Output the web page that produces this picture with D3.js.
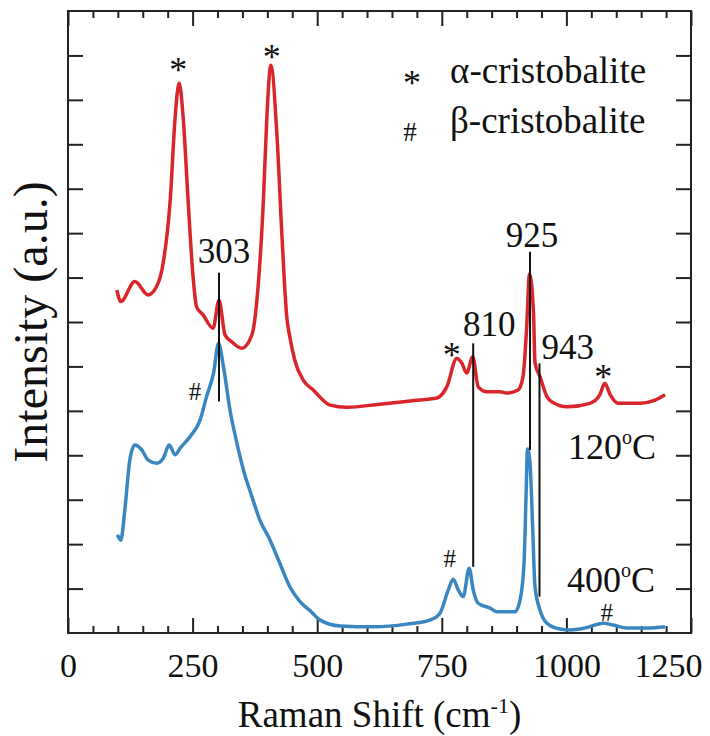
<!DOCTYPE html>
<html lang="en">
<head>
<meta charset="utf-8">
<title>Raman spectra</title>
<script src="https://d3js.org/d3.v7.min.js"></script>
<style>
  body { margin: 0; background: #fff; }
  svg text { font-family: "Liberation Serif", "Times New Roman", serif; fill: #111; }
  .ax path.domain { display: none; }
  .ax line { stroke: #222; stroke-width: 2; }
</style>
</head>
<body>
<script>

// spectrum at 120 C (red)
const shift120 = [98, 106, 134, 161, 181, 191, 205, 215, 223, 231,
                  241, 251, 258, 271, 291, 303, 315, 328, 349, 369,
                  379, 392, 399, 407, 419, 429, 439, 445, 455, 472,
                  492, 526, 559, 626, 692, 740, 760, 780, 790, 800,
                  812, 823, 840, 867, 880, 903, 913, 920, 926, 934,
                  937, 947, 961, 974, 1001, 1047, 1067, 1077, 1088, 1104,
                  1148, 1178, 1198];
const intensity120 = [7.72, 7.46, 7.91, 7.61, 7.88, 8.33, 9.73, 11.61, 12.38, 11.61,
                      9.73, 8.01, 7.34, 7.16, 6.86, 7.49, 6.71, 6.56, 6.41, 6.71,
                      7.49, 9.73, 11.61, 12.78, 11.25, 9.0, 7.11, 6.67, 6.14, 5.69,
                      5.47, 5.13, 5.08, 5.15, 5.23, 5.29, 5.54, 6.18, 6.08, 5.85,
                      6.22, 5.54, 5.43, 5.43, 5.40, 5.47, 5.77, 6.82, 8.08, 7.20,
                      6.08, 5.77, 5.32, 5.18, 5.09, 5.17, 5.36, 5.62, 5.36, 5.17,
                      5.17, 5.24, 5.36];

// spectrum at 400 C (blue)
const shift400 = [99, 106, 114, 124, 134, 148, 161, 178, 191, 203,
                  215, 225, 245, 265, 278, 292, 302, 312, 325, 339,
                  352, 369, 385, 402, 425, 445, 466, 486, 506, 546,
                  613, 680, 726, 746, 763, 773, 783, 793, 805, 813,
                  823, 847, 860, 897, 907, 915, 919, 922, 927, 932,
                  937, 947, 961, 987, 1007, 1036, 1074, 1094, 1121, 1161,
                  1198];
const intensity400 = [2.21, 2.09, 2.77, 3.89, 4.23, 4.12, 3.89, 3.82, 3.93, 4.23,
                      4.01, 4.16, 4.42, 4.79, 5.32, 5.85, 6.52, 5.99, 5.02, 4.27,
                      3.67, 3.07, 2.54, 2.17, 1.57, 1.04, 0.70, 0.50, 0.29, 0.16,
                      0.14, 0.20, 0.29, 0.44, 0.97, 1.21, 0.97, 0.82, 1.46, 0.97,
                      0.67, 0.56, 0.48, 0.48, 0.74, 1.57, 3.07, 4.14, 3.82, 2.47,
                      1.04, 0.52, 0.22, 0.09, 0.07, 0.11, 0.22, 0.18, 0.11, 0.11,
                      0.14];

// marked peaks (vertical guide lines)
const peakShift = [303, 813, 927, 946];
const peakLabels = ["303", "810", "925", "943"];
const peakTop = [8.11, 6.52, 8.58, 6.07];
const peakBottom = [5.21, 1.49, 4.12, 0.82];

// phase markers: * alpha, # beta
const alphaShift = [221, 409, 770, 1074];
const alphaLevel = [12.4, 12.7, 5.98, 5.5];
const betaShift = [255, 766, 1081];
const betaLevel = [5.24, 1.49, 0.27];

const xMajor = [0, 250, 500, 750, 1000, 1250];
const xMinor = d3.range(50, 1250, 50).filter(d => d % 250 !== 0);
const yTicks = d3.range(1, 14);

const W = 710, H = 736;
const mLeft = 68, mRight = 691, mTop = 11, mBottom = 633;

const x = d3.scaleLinear().domain([0, 1250]).range([mLeft, mRight]);
const y = d3.scaleLinear().domain([0, 14]).range([mBottom, mTop]);

const svg = d3.select("body").append("svg")
    .attr("width", W)
    .attr("height", H);

// axes: ticks inside on all four sides
function styleAxis(g) {
    g.attr("class", "ax").attr("font-family", null).attr("font-size", null);
}

const xLabels = svg.append("g")
    .attr("transform", `translate(0,${mBottom})`)
    .call(d3.axisBottom(x).tickValues(xMajor).tickFormat(d3.format("d"))
        .tickSizeInner(-15).tickSizeOuter(0).tickPadding(20))
    .call(styleAxis)
    .selectAll("text")
    .attr("font-size", 34);

// last label is pulled back inside the picture
xLabels.filter(d => d === 1250)
    .attr("text-anchor", "end")
    .attr("x", 11);

svg.append("g")
    .attr("transform", `translate(0,${mBottom})`)
    .call(d3.axisBottom(x).tickValues(xMinor).tickSize(-7).tickFormat(""))
    .call(styleAxis);

svg.append("g")
    .attr("transform", `translate(0,${mTop})`)
    .call(d3.axisTop(x).tickValues(xMajor).tickSize(-15).tickFormat(""))
    .call(styleAxis);

svg.append("g")
    .attr("transform", `translate(0,${mTop})`)
    .call(d3.axisTop(x).tickValues(xMinor).tickSize(-7).tickFormat(""))
    .call(styleAxis);

svg.append("g")
    .attr("transform", `translate(${mLeft},0)`)
    .call(d3.axisLeft(y).tickValues(yTicks).tickSize(-15).tickFormat(""))
    .call(styleAxis);

svg.append("g")
    .attr("transform", `translate(${mRight},0)`)
    .call(d3.axisRight(y).tickValues(yTicks).tickSize(-15).tickFormat(""))
    .call(styleAxis);

svg.append("rect")
    .attr("x", mLeft).attr("y", mTop)
    .attr("width", mRight - mLeft).attr("height", mBottom - mTop)
    .attr("fill", "none")
    .attr("stroke", "#222")
    .attr("stroke-width", 2);

// axis titles
const xt = svg.append("text")
    .attr("x", (mLeft + mRight) / 2)
    .attr("y", 727)
    .attr("text-anchor", "middle")
    .attr("font-size", 37)
    .text("Raman Shift (cm");
xt.append("tspan").attr("font-size", 22).attr("dy", -14).text("-1");
xt.append("tspan").attr("dy", 14).text(")");

svg.append("text")
    .attr("transform", `translate(47,${(mTop + mBottom) / 2}) rotate(-90)`)
    .attr("text-anchor", "middle")
    .attr("font-size", 48)
    .text("Intensity (a.u.)");

// spectra
const line = d3.line()
    .x(d => x(d[0]))
    .y(d => y(d[1]))
    .curve(d3.curveMonotoneX);

svg.append("path")
    .datum(d3.zip(shift400, intensity400))
    .attr("d", line)
    .attr("fill", "none")
    .attr("stroke", "#3a86c1")
    .attr("stroke-width", 3.5)
    .attr("stroke-linejoin", "round");

svg.append("path")
    .datum(d3.zip(shift120, intensity120))
    .attr("d", line)
    .attr("fill", "none")
    .attr("stroke", "#d9262c")
    .attr("stroke-width", 3.5)
    .attr("stroke-linejoin", "round");

// peak guide lines
svg.selectAll("line.peak")
    .data(peakShift)
    .enter()
    .append("line")
    .attr("class", "peak")
    .attr("x1", d => x(d)).attr("x2", d => x(d))
    .attr("y1", (d, i) => y(peakTop[i]))
    .attr("y2", (d, i) => y(peakBottom[i]))
    .attr("stroke", "#111")
    .attr("stroke-width", 2);

// label offsets from top of each guide line
const labelDx = [5, 16, 2, 2];
const labelDy = [-10, -7, -5, -4];
const labelAnchor = ["middle", "middle", "middle", "start"];

svg.selectAll("text.peak")
    .data(peakLabels)
    .enter()
    .append("text")
    .attr("class", "peak")
    .attr("x", (d, i) => x(peakShift[i]) + labelDx[i])
    .attr("y", (d, i) => y(peakTop[i]) + labelDy[i])
    .attr("text-anchor", (d, i) => labelAnchor[i])
    .attr("font-size", 35)
    .text(d => d);

// phase markers
svg.selectAll("text.alpha")
    .data(alphaShift)
    .enter()
    .append("text")
    .attr("class", "alpha")
    .attr("x", d => x(d))
    .attr("y", (d, i) => y(alphaLevel[i]))
    .attr("text-anchor", "middle")
    .attr("font-size", 36)
    .text("*");

svg.selectAll("text.beta")
    .data(betaShift)
    .enter()
    .append("text")
    .attr("class", "beta")
    .attr("x", d => x(d))
    .attr("y", (d, i) => y(betaLevel[i]))
    .attr("text-anchor", "middle")
    .attr("font-size", 25)
    .text("#");

// temperature labels
function tempLabel(t, px, py) {
    const el = svg.append("text")
        .attr("x", px).attr("y", py)
        .attr("font-size", 36)
        .text(t);
    el.append("tspan").attr("font-size", 20).attr("dy", -15).text("o");
    el.append("tspan").attr("dy", 15).text("C");
}
tempLabel("120", 568, 459);
tempLabel("400", 567, 592);

// legend
const legend = svg.append("g");
legend.append("text").attr("x", 412).attr("y", 95)
    .attr("text-anchor", "middle").attr("font-size", 36).text("*");
legend.append("text").attr("x", 450).attr("y", 83)
    .attr("font-size", 37).text("α-cristobalite");
legend.append("text").attr("x", 410).attr("y", 141)
    .attr("text-anchor", "middle").attr("font-size", 27).text("#");
legend.append("text").attr("x", 450).attr("y", 133)
    .attr("font-size", 37).text("β-cristobalite");

</script>
</body>
</html>
